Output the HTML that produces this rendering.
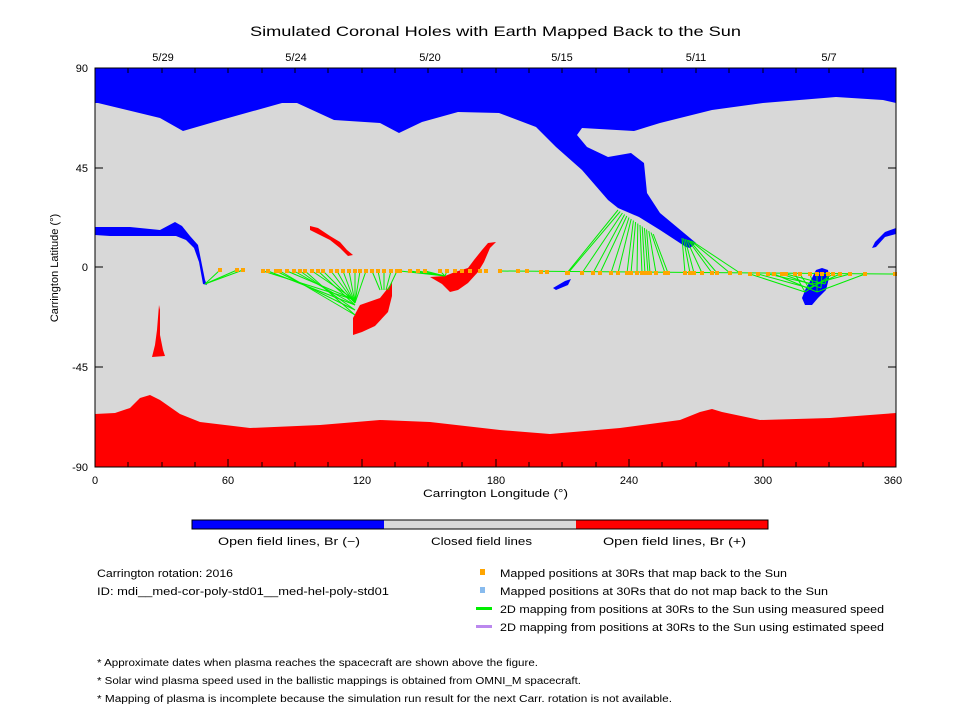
<!DOCTYPE html>
<html><head><meta charset="utf-8"><style>
html,body{margin:0;padding:0;background:#fff;}
svg text{font-family:"Liberation Sans",sans-serif;fill:#000;}
</style></head><body>
<svg id="s" width="960" height="720" viewBox="0 0 960 720" xmlns="http://www.w3.org/2000/svg">
<rect x="0" y="0" width="960" height="720" fill="#fff"/>
<text x="250" y="36" font-size="14" textLength="491" lengthAdjust="spacingAndGlyphs">Simulated Coronal Holes with Earth Mapped Back to the Sun</text>
<g font-size="11" text-anchor="middle">
<text x="163" y="61">5/29</text><text x="296" y="61">5/24</text><text x="430" y="61">5/20</text>
<text x="562" y="61">5/15</text><text x="696" y="61">5/11</text><text x="829" y="61">5/7</text>
</g>
<rect x="95" y="68" width="801" height="399" fill="#d8d8d8"/>
<path fill="#0000ff" d="M95,68 L896,68 L896,103 L883,100 L836,97 L763,103 L712,110 L660,123 L634,131 L582,128 L577,135 L587,147 L608,157 L631,153 L644,163 L647,193 L660,213 L696,243 L690,248 L686,247 L660,230 L639,217 L618,208 L608,200 L582,170 L556,147 L536,127 L499,113 L458,112 L422,122 L399,133 L380,123 L334,120 L297,103 L282,103 L214,122 L183,131 L160,118 L98,103 L95,103 Z"/>
<path fill="#ff0000" d="M95,467 L95,414 L115,413 L130,408 L140,398 L150,395 L160,400 L180,414 L200,422 L250,428 L320,425 L380,420 L430,422 L500,430 L550,434 L620,428 L680,420 L700,412 L712,409 L722,412 L760,420 L830,418 L870,415 L896,413 L896,467 Z"/>
<path fill="#0000ff" d="M95,227 L130,227 L160,230 L175,222 L182,226 L190,236 L198,245 L201,260 L205,280 L207,285 L203,284 L199,262 L194,248 L186,240 L176,236 L160,236 L130,236 L110,236 L95,235 Z"/>
<path fill="#0000ff" d="M896,228 L885,232 L875,242 L872,248 L876,247 L885,237 L896,234 Z"/>
<path fill="#0000ff" d="M553,288 L565,281 L571,279 L568,285 L556,290 Z"/>
<path fill="#0000ff" d="M806,288 L812,278 L816,270 L822,268 L828,270 L829,278 L826,290 L818,298 L812,305 L805,305 L802,298 Z"/>
<path fill="#ff0000" d="M310,226 L318,228 L330,236 L340,242 L347,250 L353,255 L348,256 L340,248 L330,240 L318,234 L310,230 Z"/>
<path fill="#ff0000" d="M353,335 L353,318 L360,305 L380,298 L388,288 L392,282 L392,296 L388,312 L375,326 L362,332 Z"/>
<path fill="#ff0000" d="M430,277 L445,276 L455,272 L468,268 L474,260 L482,250 L488,243 L496,242 L490,248 L484,262 L478,272 L468,283 L458,290 L450,292 L442,284 Z"/>
<path fill="#ff0000" d="M152,357 L155,345 L157,330 L159,305 L160,310 L160,335 L163,350 L165,356 Z"/>
<g id="g" stroke="#00ee00" stroke-width="1" fill="none"></g>
<line x1="500" y1="271" x2="896" y2="274" stroke="#00ee00"/>
<g id="d" fill="#ffa500"></g>
<rect x="95" y="68" width="801" height="399" fill="none" stroke="#000" stroke-width="1"/>
<g stroke="#000" stroke-width="1" id="ticks"></g>
<g font-size="11">
<text x="88" y="72" text-anchor="end">90</text>
<text x="88" y="172" text-anchor="end">45</text>
<text x="88" y="271" text-anchor="end">0</text>
<text x="88" y="371" text-anchor="end">-45</text>
<text x="88" y="471" text-anchor="end">-90</text>
<g text-anchor="middle">
<text x="95" y="484">0</text><text x="228" y="484">60</text><text x="362" y="484">120</text>
<text x="496" y="484">180</text><text x="629" y="484">240</text><text x="763" y="484">300</text><text x="893" y="484">360</text>
</g>
<text x="423" y="497" textLength="145" lengthAdjust="spacingAndGlyphs">Carrington Longitude (°)</text>
<text transform="translate(58,268) rotate(-90)" text-anchor="middle">Carrington Latitude (°)</text>
</g>
<rect x="192" y="520" width="192" height="9" fill="#0000ff"/>
<rect x="384" y="520" width="192" height="9" fill="#d8d8d8"/>
<rect x="576" y="520" width="192" height="9" fill="#ff0000"/>
<rect x="192" y="520" width="576" height="9" fill="none" stroke="#000"/>
<g font-size="11" lengthAdjust="spacingAndGlyphs">
<text x="218" y="545" textLength="142" lengthAdjust="spacingAndGlyphs">Open field lines, Br (−)</text>
<text x="431" y="545" textLength="101" lengthAdjust="spacingAndGlyphs">Closed field lines</text>
<text x="603" y="545" textLength="143" lengthAdjust="spacingAndGlyphs">Open field lines, Br (+)</text>
<text x="97" y="577" textLength="136" lengthAdjust="spacingAndGlyphs">Carrington rotation: 2016</text>
<text x="97" y="595" textLength="292" lengthAdjust="spacingAndGlyphs">ID: mdi__med-cor-poly-std01__med-hel-poly-std01</text>
<rect x="480" y="569" width="5" height="6" fill="#ffa500"/>
<text x="500" y="577" textLength="287" lengthAdjust="spacingAndGlyphs">Mapped positions at 30Rs that map back to the Sun</text>
<rect x="480" y="587" width="5" height="6" fill="#88bbee"/>
<text x="500" y="595" textLength="328" lengthAdjust="spacingAndGlyphs">Mapped positions at 30Rs that do not map back to the Sun</text>
<rect x="476" y="607" width="16" height="3" fill="#00ee00"/>
<text x="500" y="613" textLength="384" lengthAdjust="spacingAndGlyphs">2D mapping from positions at 30Rs to the Sun using measured speed</text>
<rect x="476" y="625" width="16" height="3" fill="#bb88ee"/>
<text x="500" y="631" textLength="384" lengthAdjust="spacingAndGlyphs">2D mapping from positions at 30Rs to the Sun using estimated speed</text>
</g>
<g font-size="10">
<text x="97" y="666" textLength="441" lengthAdjust="spacingAndGlyphs">* Approximate dates when plasma reaches the spacecraft are shown above the figure.</text>
<text x="97" y="684" textLength="484" lengthAdjust="spacingAndGlyphs">* Solar wind plasma speed used in the ballistic mappings is obtained from OMNI_M spacecraft.</text>
<text x="97" y="702" textLength="575" lengthAdjust="spacingAndGlyphs">* Mapping of plasma is incomplete because the simulation run result for the next Carr. rotation is not available.</text>
</g>
</svg>
<script>
var NS="http://www.w3.org/2000/svg";
function el(p,t,a){var e=document.createElementNS(NS,t);for(var k in a)e.setAttribute(k,a[k]);document.getElementById(p).appendChild(e);}
function L(x1,y1,x2,y2){el('g','line',{x1:x1,y1:y1,x2:x2,y2:y2});}
function D(x,y){el('d','rect',{x:x-2,y:y-2,width:4,height:4});}
[220,237,243].forEach(function(x){L(x,270,205,284);D(x,270);});
var g2=[263,268,276,280,287,294,300,305,312,318,323,331,337,343,349,355,360,366,372,378,384,391,397];
g2.forEach(function(x,i){var ty=(i<10)?(300+(i%4)*5):(i<18?303:290);var tx=(i<18)?355:(380+(i-18)*2);L(x,271,tx,ty);D(x,271);});
[400,410,418,425,440,447,455,462,470,480,486,500,518,527].forEach(function(x,i){if(i<6)L(x,271,445,276);D(x,271);});
D(541,272);D(547,272);
var g4=[567,568,582,593,600,611,618,627,631,637,642,645,648,650,656,665,668,685,690,694,702,712,717,730,740];
g4.forEach(function(x,i){var tx,ty;if(i<17){tx=618+i*2.2;ty=210+i*1.5;}else{tx=682+(i-17)*1.5;ty=238+(i-17)*0.5;}L(x,273,tx,ty);D(x,273);});
[750,758,768,774,782,786,795,800,810,817,822,828,833,840,850,865,895].forEach(function(x,i){if(i<16)L(x,274,805+(i%6)*4,292-(i%3)*4);D(x,274);});
var tk=[[95,1],[128,0],[162,0],[195,0],[228,1],[262,0],[295,0],[328,0],[362,1],[395,0],[428,0],[462,0],[496,1],[529,0],[562,0],[596,0],[629,1],[662,0],[696,0],[729,0],[763,1],[796,0],[829,0],[863,0],[896,1]];
tk.forEach(function(t){var l=t[1]?8:5;el('ticks','line',{x1:t[0],y1:467,x2:t[0],y2:467-l});el('ticks','line',{x1:t[0],y1:68,x2:t[0],y2:68+5});});
[68,168,267,367,467].forEach(function(y){el('ticks','line',{x1:95,y1:y,x2:103,y2:y});el('ticks','line',{x1:896,y1:y,x2:888,y2:y});});
</script>
</body></html>
